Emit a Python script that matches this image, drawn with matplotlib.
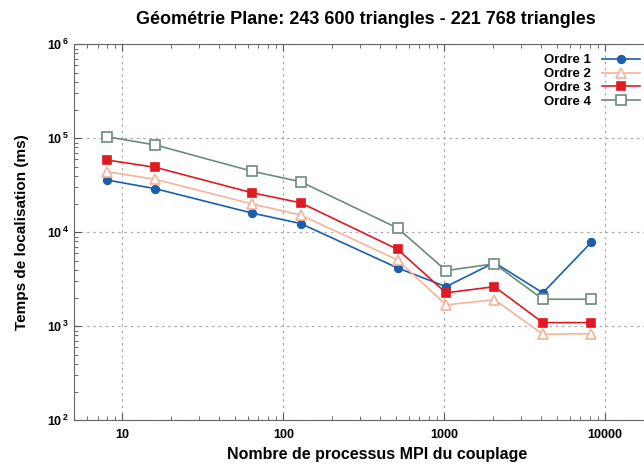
import matplotlib
matplotlib.use("Agg")
import matplotlib.pyplot as plt
from matplotlib.ticker import FixedLocator, LogLocator, NullFormatter

plt.rcParams['font.family'] = ['Liberation Sans', 'DejaVu Sans']
plt.rcParams['font.weight'] = 'bold'
plt.rcParams['mathtext.fontset'] = 'custom'
plt.rcParams['mathtext.rm'] = 'Liberation Sans:bold'
plt.rcParams['mathtext.bf'] = 'Liberation Sans:bold'
plt.rcParams['mathtext.default'] = 'bf'

# data
procs = [8, 16, 64, 128, 512, 1024, 2048, 4096, 8192]
ordre1 = [36000, 29100, 16000, 12400, 4180, 2640, 4760, 2270, 7830]
ordre2 = [44200, 36600, 20000, 15300, 5080, 1690, 1920, 822, 836]
ordre3 = [58800, 49100, 26300, 20600, 6590, 2270, 2640, 1095, 1095]
ordre4 = [104000, 84900, 44600, 34500, 11100, 3920, 4620, 1940, 1940]

labels = ["Ordre 1", "Ordre 2", "Ordre 3", "Ordre 4"]
x_ticks = [10, 100, 1000, 10000]
x_tick_labels = ["10", "100", "1000", "10000"]
y_ticks = [1e2, 1e3, 1e4, 1e5, 1e6]
y_tick_labels = [r"$10^{\,%d}$" % e for e in range(2, 7)]

styles = [
    dict(color="#1a5fae", marker="o", markersize=5.5, markerfacecolor="#1a5fae"),
    dict(color="#f7b29a", marker="^", markersize=7, markerfacecolor="white"),
    dict(color="#e01a22", marker="s", markersize=6, markerfacecolor="#e01a22"),
    dict(color="#6d8b7c", marker="s", markersize=6.5, markerfacecolor="white"),
]

fig = plt.figure(figsize=(6.44, 4.66), dpi=100)
ax = fig.add_axes([0.115, 0.098, 0.900, 0.807])

for ys, lab, st in zip([ordre1, ordre2, ordre3, ordre4], labels, styles):
    ax.plot(procs, ys, label=lab, linewidth=1.2, markeredgewidth=1.2, **st)

ax.set_xscale("log")
ax.set_yscale("log")
ax.set_xlim(5, 20000)
ax.set_ylim(1e2, 1e6)

ax.xaxis.set_major_locator(FixedLocator(x_ticks))
ax.set_xticklabels(x_tick_labels)
ax.xaxis.set_minor_locator(LogLocator(base=10, subs=range(2, 10), numticks=20))
ax.xaxis.set_minor_formatter(NullFormatter())
ax.yaxis.set_major_locator(FixedLocator(y_ticks))
ax.set_yticklabels(y_tick_labels)
ax.yaxis.set_minor_locator(LogLocator(base=10, subs=range(2, 10), numticks=20))
ax.yaxis.set_minor_formatter(NullFormatter())

ax.tick_params(which="both", direction="in", top=True, right=True, labelsize=9, color="#555555")
ax.tick_params(which="major", length=5)
ax.tick_params(which="minor", length=3)
ax.tick_params(axis="x", pad=6)
ax.grid(True, which="major", linestyle=(0, (2, 3)), color="#aaaaaa", linewidth=0.9)

for sp in ax.spines.values():
    sp.set_color("#666666")

fig.text(366 / 644, 1 - 19 / 466, "Géométrie Plane: 243 600 triangles - 221 768 triangles",
         fontsize=13, fontweight="bold", ha="center", va="center")
fig.text(377 / 644, 1 - 455 / 466, "Nombre de processus MPI du couplage",
         fontsize=11.5, fontweight="bold", ha="center", va="center")
ax.set_ylabel("Temps de localisation (ms)", fontsize=11, fontweight="bold", labelpad=13)

leg = ax.legend(loc="upper right", bbox_to_anchor=(0.99, 0.995), frameon=False, markerfirst=False,
                fontsize=9.5, handlelength=2.9, labelspacing=0.12, borderaxespad=0.2)
for t in leg.get_texts():
    t.set_fontweight("bold")

fig.savefig("out.png", dpi=100)
